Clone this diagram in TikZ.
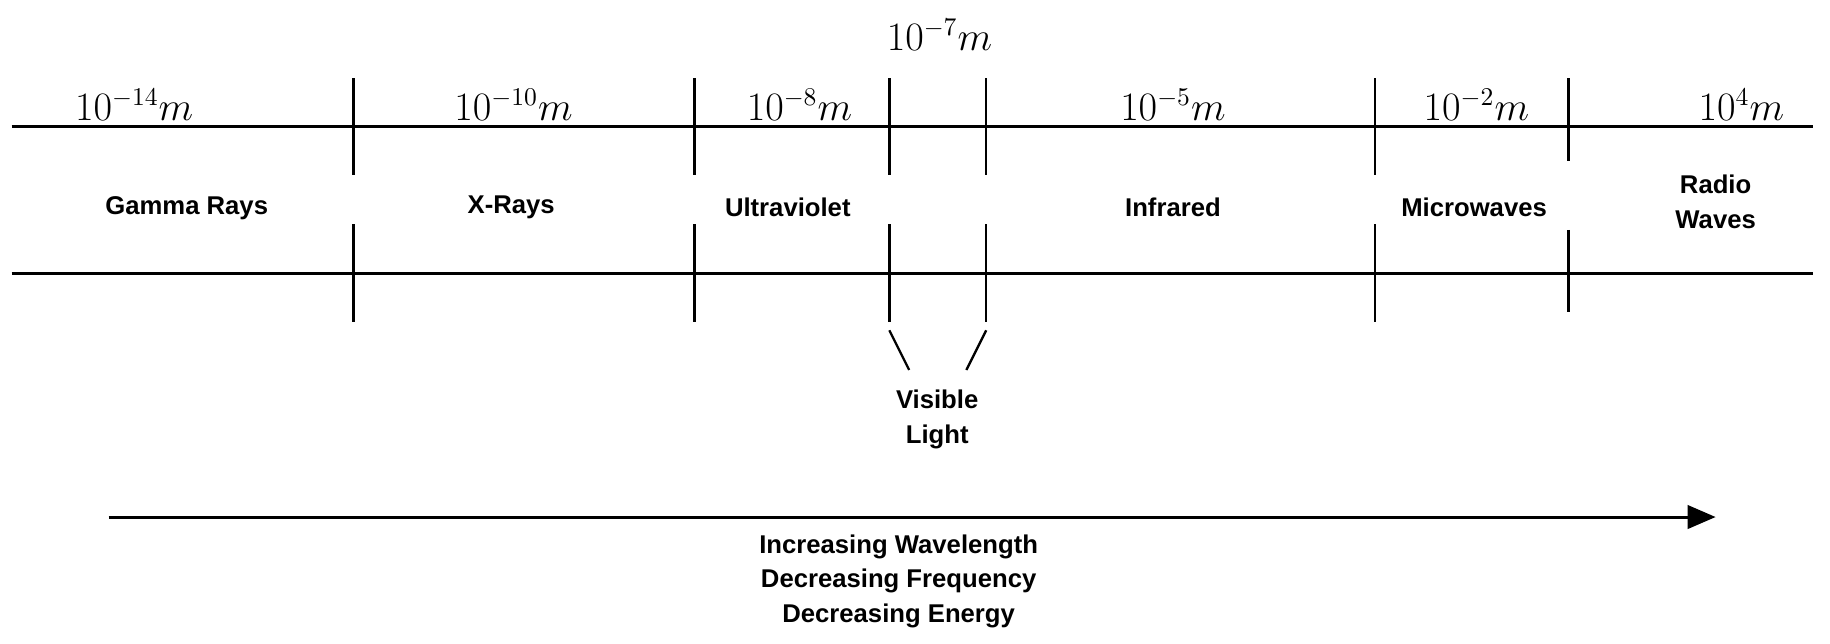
\documentclass[tikz,border=0pt]{standalone}
\usepackage{fontspec}
\setsansfont{Liberation Sans}
\usetikzlibrary{arrows.meta}
\begin{document}
\begin{tikzpicture}[x=0.5pt,y=-0.5pt,
  band/.style={font=\sffamily\bfseries\fontsize{11}{15}\selectfont,align=center},
  wl/.style={font=\fontsize{16}{18}\selectfont},
  axis/.style={line width=1.3pt},
  tick/.style={line width=1pt}]
\useasboundingbox (0,0) rectangle (1568,551);
\coordinate (tl) at (10,108); \coordinate (tr) at (1553,108);
\coordinate (bl) at (10,234); \coordinate (br) at (1553,234);
\draw[axis] (tl) -- (tr);
\draw[axis] (bl) -- (br);
\foreach \x in {303,595,762,845,1178}{
  \draw[tick] (\x,67) -- (\x,150);
  \draw[tick] (\x,192) -- (\x,276);
}
\draw[tick] (1344,67) -- (1344,138);
\draw[tick] (1344,197) -- (1344,267);
\draw[tick] (762,283) -- (779,317);
\draw[tick] (845,283) -- (828,317);
\node[wl] (w14) at (115,90) {$10^{-14}m$};
\node[wl] (w10) at (440,90) {$10^{-10}m$};
\node[wl] (w8) at (685,90) {$10^{-8}m$};
\node[wl] (w7) at (805,30) {$10^{-7}m$};
\node[wl] (w5) at (1005,90) {$10^{-5}m$};
\node[wl] (w2) at (1265,90) {$10^{-2}m$};
\node[wl] (w4) at (1492,90) {$10^{4}m$};
\node[band] (g) at (160,178) {Gamma Rays};
\node[band] (xr) at (438,178) {X-Rays};
\node[band] (uv) at (675,178) {Ultraviolet};
\node[band] (ir) at (1005,178) {Infrared};
\node[band] (mw) at (1263,178) {Microwaves};
\node[band] (rw) at (1470,173) {Radio\\Waves};
\node[band] (vl) at (803,359) {Visible\\Light};
\coordinate (a0) at (93,443); \coordinate (a1) at (1470,443);
\draw[axis,-{Triangle[length=12pt,width=10pt]}] (a0) -- (a1);
\node[band,font=\sffamily\bfseries\fontsize{11}{14.7}\selectfont] (lab) at (770,498) {Increasing Wavelength\\Decreasing Frequency\\Decreasing Energy};
\end{tikzpicture}
\end{document}
